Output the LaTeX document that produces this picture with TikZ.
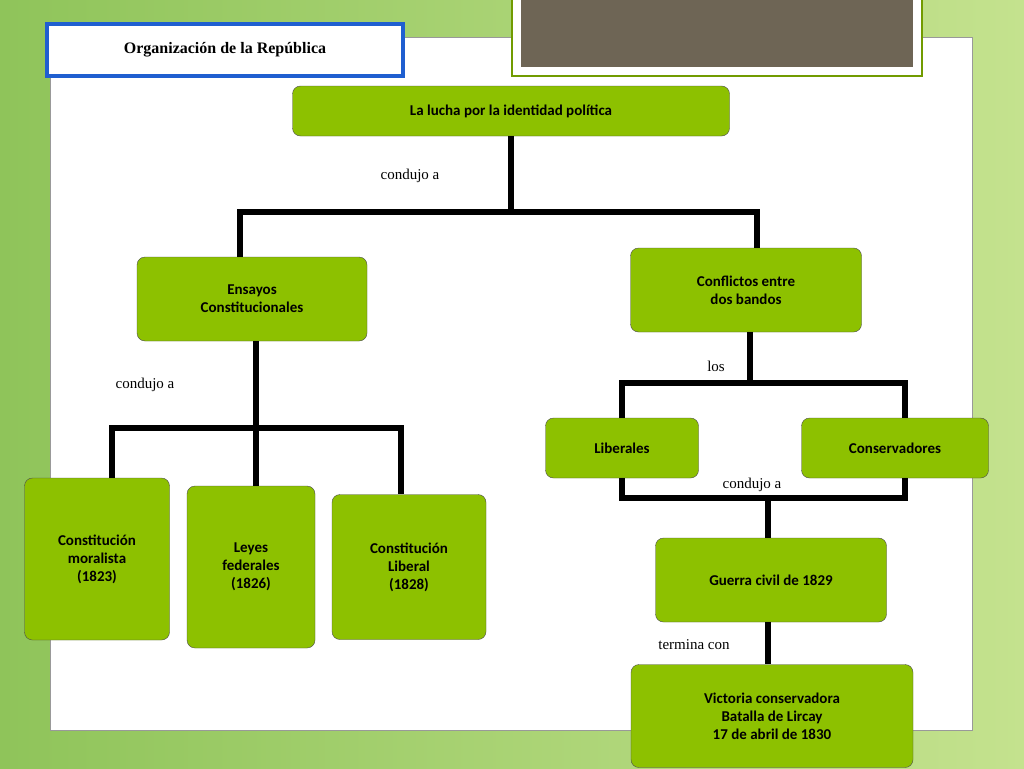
\documentclass[tikz,border=0pt]{standalone}
\usepackage{fontspec}
\setmainfont{Liberation Serif}
\newfontfamily\boxfont{Carlito}
\usetikzlibrary{positioning}
\definecolor{boxgreen}{HTML}{8DC100}
\definecolor{bgA}{HTML}{8FC45A}
\definecolor{bgB}{HTML}{C4E28E}
\definecolor{titleblue}{HTML}{1F5FD0}
\definecolor{topgray}{HTML}{6E6555}
\tikzset{
  concept/.style={draw=black!70, fill=boxgreen, rounded corners=8pt, align=center,
    font=\boxfont\bfseries\fontsize{15}{18}\selectfont, inner sep=2pt},
  link/.style={line width=5.5pt},
  lbl/.style={font=\fontsize{15}{18}\selectfont}
}
\begin{document}
\begin{tikzpicture}[x=1pt,y=-1pt]
\useasboundingbox (0,0) rectangle (1024,768);
% background
\shade[left color=bgA, right color=bgB] (0,0) rectangle (1024,768);
\fill[white] (50,37) rectangle (972,730);
\draw[black!40] (50,37) rectangle (972,730);
\fill[white] (512,0) rectangle (922,76);
\draw[boxgreen!80!black, line width=1.5pt] (512,-2) rectangle (922,76);
\fill[topgray] (521,0) rectangle (913,67);
\node[draw=titleblue, line width=4pt, fill=white, minimum width=356pt, minimum height=52pt,
  font=\bfseries\fontsize{16}{19}\selectfont] (title) at (225,50) {Organización de la República};
% concepts
\node[concept, minimum width=437pt, minimum height=50pt] (lucha) at (511,111) {La lucha por la identidad política};
\node[concept, minimum width=230pt, minimum height=84pt] (ensayos) at (252,299) {Ensayos\\Constitucionales};
\node[concept, minimum width=231pt, minimum height=84pt] (conflictos) at (746,290) {Conflictos entre\\dos bandos};
\node[concept, minimum width=153pt, minimum height=60pt] (liberales) at (622,448) {Liberales};
\node[concept, minimum width=187pt, minimum height=60pt] (conservadores) at (895,448) {Conservadores};
\node[concept, minimum width=145pt, minimum height=162pt] (moralista) at (97,559) {Constitución\\moralista\\(1823)};
\node[concept, minimum width=128pt, minimum height=162pt] (leyes) at (251,567) {Leyes\\federales\\(1826)};
\node[concept, minimum width=154pt, minimum height=145pt] (liberal) at (409,567) {Constitución\\Liberal\\(1828)};
\node[concept, minimum width=231pt, minimum height=84pt] (guerra) at (771,580) {Guerra civil de 1829};
\node[concept, minimum width=282pt, minimum height=103pt] (victoria) at (772,716) {Victoria conservadora\\Batalla de Lircay\\17 de abril de 1830};
% connectors
\coordinate (j1) at (511,212);
\draw[link] (lucha.south) -- (j1);
\draw[link] (ensayos.north -| 240,0) |- (j1) -| (conflictos.north -| 757,0);
\coordinate (j2) at (256,428);
\draw[link] (ensayos.south -| 256,0) -- (j2);
\draw[link] (moralista.north -| 112,0) |- (j2) -| (liberal.north -| 401,0);
\draw[link] (j2) -- (leyes.north -| 256,0);
\coordinate (j3) at (750,383);
\draw[link] (conflictos.south -| 750,0) -- (j3);
\draw[link] (liberales.north -| 622,0) |- (j3) -| (conservadores.north -| 905,0);
\coordinate (j4) at (768,498);
\draw[link] (liberales.south -| 622,0) |- (j4) -| (conservadores.south -| 905,0);
\draw[link] (j4) -- (guerra.north -| 768,0);
\draw[link] (guerra.south -| 768,0) -- (victoria.north -| 768,0);
% labels
\node[lbl] (c1) at (410,176) {condujo a};
\node[lbl] (c2) at (145,385) {condujo a};
\node[lbl] (c3) at (752,485) {condujo a};
\node[lbl] (los) at (716,366) {los};
\node[lbl] (term) at (694,645) {termina con};
\end{tikzpicture}
\end{document}
